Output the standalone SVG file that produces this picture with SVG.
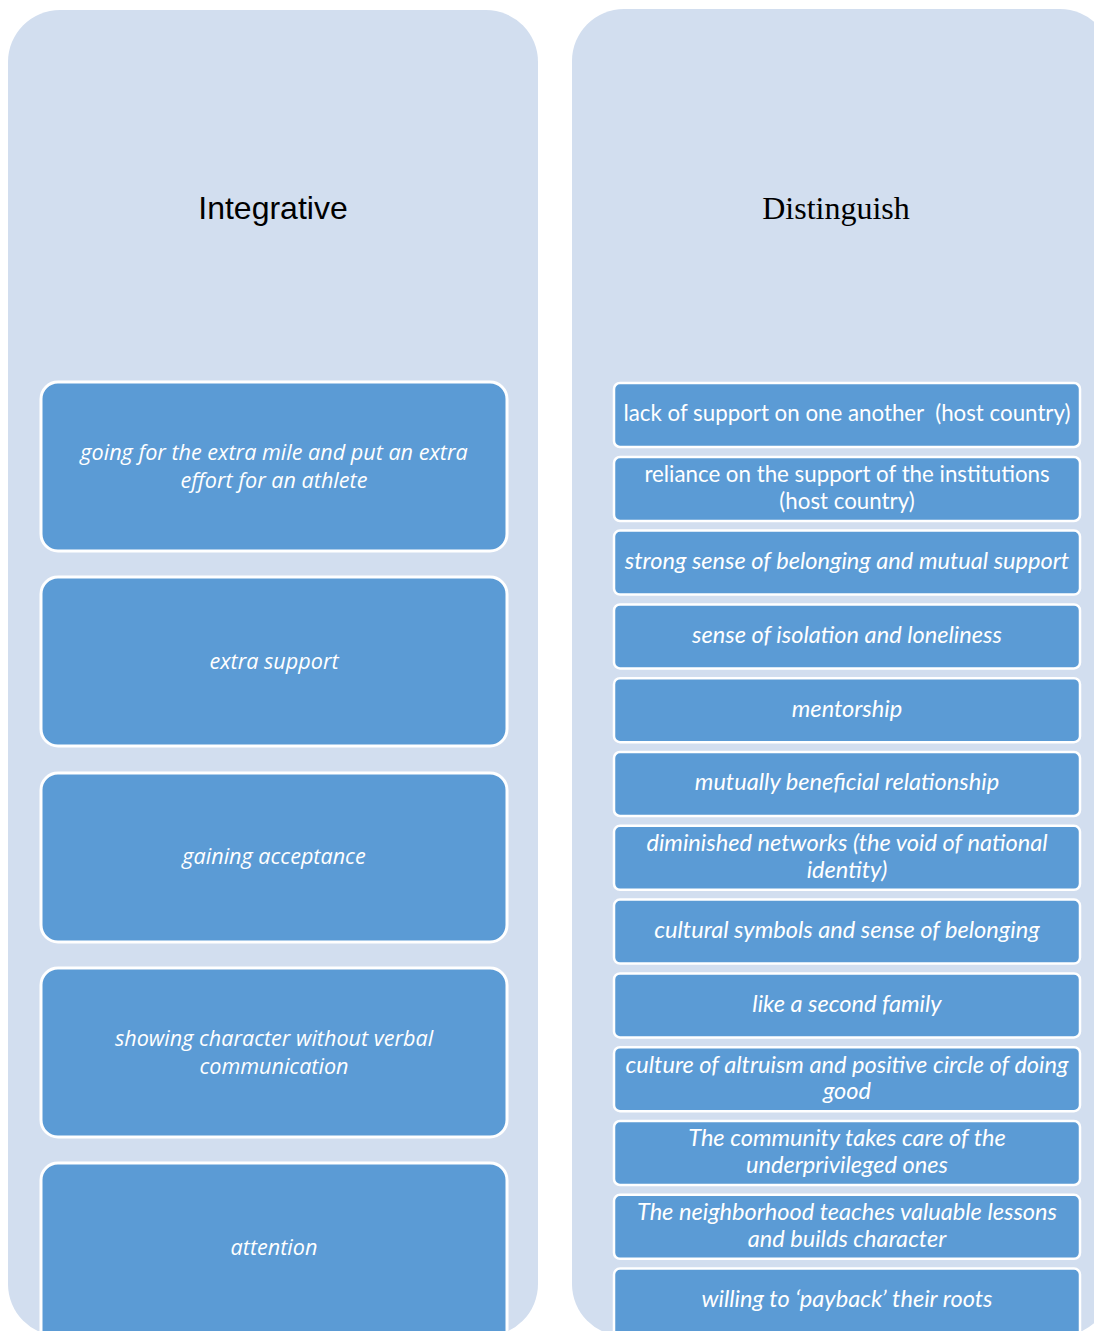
<svg xmlns="http://www.w3.org/2000/svg" width="1094" height="1331" viewBox="0 0 1094 1331">
<style>
.panel{fill:#D2DEEF;}
.lbox{fill:#5B9BD5;stroke:#FFFFFF;stroke-width:3;}
.rbox{fill:#5B9BD5;stroke:#FFFFFF;stroke-width:2.5;}
.ltxt{font-family:"Open Sans","Noto Sans",sans-serif;font-style:italic;font-size:21.6px;fill:#FFFFFF;text-anchor:middle;}
.rtxt{font-family:Lato,"Noto Sans",sans-serif;font-size:22.3px;fill:#FFFFFF;text-anchor:middle;white-space:pre;}
.it{font-style:italic;font-size:23.6px;}
.h1{font-family:"Liberation Sans",Arial,sans-serif;font-size:32px;fill:#000000;text-anchor:middle;}
.h2{font-family:"Liberation Serif","Times New Roman",serif;font-size:32px;fill:#000000;text-anchor:middle;}
</style>
<rect width="1094" height="1331" fill="#FFFFFF"/>
<g id="panel-integrative">
<rect class="panel" x="8" y="10" width="530" height="1326" rx="52" ry="52"/>
<text class="h1" x="273" y="219">Integrative</text>
</g>
<g id="panel-distinguish">
<rect class="panel" x="572" y="9" width="540" height="1327" rx="52" ry="52"/>
<text class="h2" x="836" y="219">Distinguish</text>
</g>
<g id="connectors"></g>
<g id="l1"><rect class="lbox" x="41" y="382" width="466" height="169" rx="17"/><text class="ltxt" x="274" y="459.5">going for the extra mile and put an extra</text><text class="ltxt" x="274" y="487.5">effort for an athlete</text></g>
<g id="l2"><rect class="lbox" x="41" y="577" width="466" height="169" rx="17"/><text class="ltxt" x="274" y="669">extra support</text></g>
<g id="l3"><rect class="lbox" x="41" y="773" width="466" height="169" rx="17"/><text class="ltxt" x="274" y="864">gaining acceptance</text></g>
<g id="l4"><rect class="lbox" x="41" y="968" width="466" height="169" rx="17"/><text class="ltxt" x="274" y="1045.5">showing character without verbal</text><text class="ltxt" x="274" y="1073.5">communication</text></g>
<g id="l5"><rect class="lbox" x="41" y="1163" width="466" height="190" rx="17"/><text class="ltxt" x="274" y="1255">attention</text></g>
<g id="r1"><rect class="rbox" x="614" y="383" width="466" height="64" rx="6"/><text class="rtxt" x="847" y="421" xml:space="preserve">lack of support on one another  (host country)</text></g>
<g id="r2"><rect class="rbox" x="614" y="457" width="466" height="64" rx="6"/><text class="rtxt" x="847" y="482">reliance on the support of the institutions</text><text class="rtxt" x="847" y="509">(host country)</text></g>
<g id="r3"><rect class="rbox" x="614" y="530.6" width="466" height="64" rx="6"/><text class="rtxt it" x="847" y="569">strong sense of belonging and mutual support</text></g>
<g id="r4"><rect class="rbox" x="614" y="604.4" width="466" height="64" rx="6"/><text class="rtxt it" x="847" y="643">sense of isolation and loneliness</text></g>
<g id="r5"><rect class="rbox" x="614" y="678.2" width="466" height="64" rx="6"/><text class="rtxt it" x="847" y="717">mentorship</text></g>
<g id="r6"><rect class="rbox" x="614" y="752" width="466" height="64" rx="6"/><text class="rtxt it" x="847" y="790">mutually beneficial relationship</text></g>
<g id="r7"><rect class="rbox" x="614" y="825.8" width="466" height="64" rx="6"/><text class="rtxt it" x="847" y="851">diminished networks (the void of national</text><text class="rtxt it" x="847" y="878">identity)</text></g>
<g id="r8"><rect class="rbox" x="614" y="899.6" width="466" height="64" rx="6"/><text class="rtxt it" x="847" y="938">cultural symbols and sense of belonging</text></g>
<g id="r9"><rect class="rbox" x="614" y="973.4" width="466" height="64" rx="6"/><text class="rtxt it" x="847" y="1012">like a second family</text></g>
<g id="r10"><rect class="rbox" x="614" y="1047.2" width="466" height="64" rx="6"/><text class="rtxt it" x="847" y="1073">culture of altruism and positive circle of doing</text><text class="rtxt it" x="847" y="1099">good</text></g>
<g id="r11"><rect class="rbox" x="614" y="1121" width="466" height="64" rx="6"/><text class="rtxt it" x="847" y="1146">The community takes care of the</text><text class="rtxt it" x="847" y="1173">underprivileged ones</text></g>
<g id="r12"><rect class="rbox" x="614" y="1194.8" width="466" height="64" rx="6"/><text class="rtxt it" x="847" y="1220">The neighborhood teaches valuable lessons</text><text class="rtxt it" x="847" y="1247">and builds character</text></g>
<g id="r13"><rect class="rbox" x="614" y="1268.6" width="466" height="80" rx="6"/><text class="rtxt it" x="847" y="1307">willing to ‘payback’ their roots</text></g>
</svg>
